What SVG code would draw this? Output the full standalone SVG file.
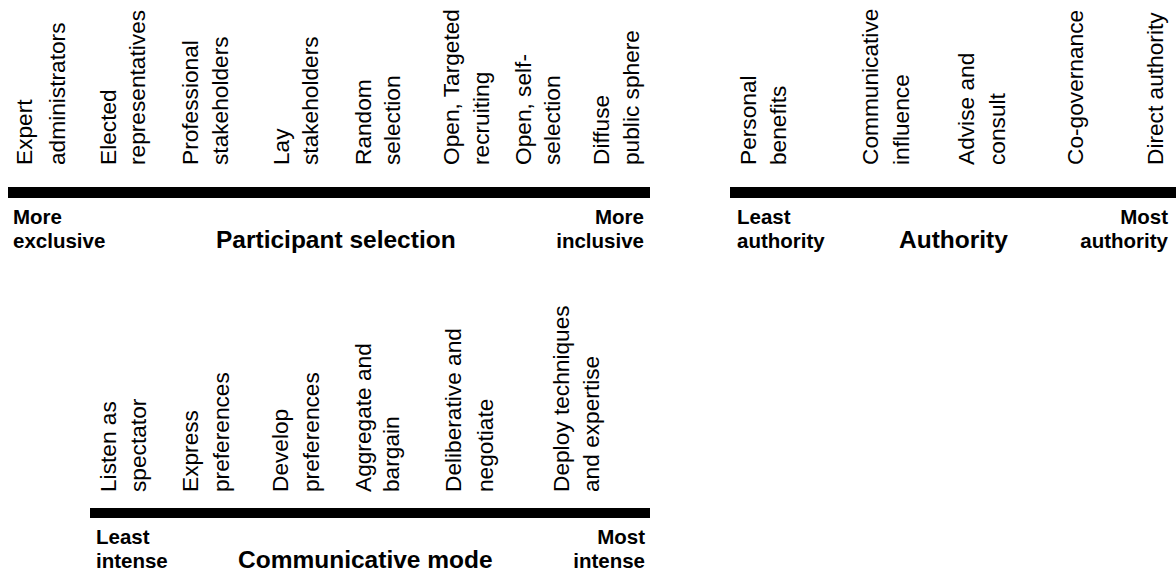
<svg xmlns="http://www.w3.org/2000/svg" width="1176" height="574" viewBox="0 0 1176 574">
<style>
.v{font-family:"Liberation Sans",Arial,sans-serif;font-size:22.7px;fill:#000}
.s{font-family:"Liberation Sans",Arial,sans-serif;font-size:20.5px;font-weight:bold;fill:#000}
.t{font-family:"Liberation Sans",Arial,sans-serif;font-size:24.5px;font-weight:bold;fill:#000}
.e{text-anchor:end}
.bar{fill:#000}
</style>
<rect width="1176" height="574" fill="#fff"/>
<g id="axes">
<rect class="bar" x="8" y="187" width="642" height="11"/>
<rect class="bar" x="730" y="187" width="446" height="11"/>
<rect class="bar" x="90" y="508" width="560" height="10"/>
</g>
<g id="participant-selection">
<text class="v" transform="translate(32,165) rotate(-90)">Expert</text>
<text class="v" transform="translate(65,165) rotate(-90)">administrators</text>
<text class="v" transform="translate(116,165) rotate(-90)">Elected</text>
<text class="v" transform="translate(145,165) rotate(-90)">representatives</text>
<text class="v" transform="translate(198,165) rotate(-90)">Professional</text>
<text class="v" transform="translate(228,165) rotate(-90)">stakeholders</text>
<text class="v" transform="translate(289,165) rotate(-90)">Lay</text>
<text class="v" transform="translate(318,165) rotate(-90)">stakeholders</text>
<text class="v" transform="translate(371,165) rotate(-90)">Random</text>
<text class="v" transform="translate(400,165) rotate(-90)">selection</text>
<text class="v" transform="translate(459,165) rotate(-90)">Open, Targeted</text>
<text class="v" transform="translate(489,165) rotate(-90)">recruiting</text>
<text class="v" transform="translate(531,165) rotate(-90)">Open, self-</text>
<text class="v" transform="translate(560,165) rotate(-90)">selection</text>
<text class="v" transform="translate(609,165) rotate(-90)">Diffuse</text>
<text class="v" transform="translate(639,165) rotate(-90)">public sphere</text>
<text class="s" x="13" y="224">More</text>
<text class="s" x="13" y="248">exclusive</text>
<text class="t" x="216" y="248">Participant selection</text>
<text class="s e" x="644" y="224">More</text>
<text class="s e" x="644" y="248">inclusive</text>
</g>
<g id="authority">
<text class="v" transform="translate(756,165) rotate(-90)">Personal</text>
<text class="v" transform="translate(786,165) rotate(-90)">benefits</text>
<text class="v" transform="translate(878,165) rotate(-90)">Communicative</text>
<text class="v" transform="translate(909,165) rotate(-90)">influence</text>
<text class="v" transform="translate(974,165) rotate(-90)">Advise and</text>
<text class="v" transform="translate(1005,165) rotate(-90)">consult</text>
<text class="v" transform="translate(1083,165) rotate(-90)">Co-governance</text>
<text class="v" transform="translate(1163,165) rotate(-90)">Direct authority</text>
<text class="s" x="737" y="224">Least</text>
<text class="s" x="737" y="248">authority</text>
<text class="t" x="899" y="248">Authority</text>
<text class="s e" x="1168" y="224">Most</text>
<text class="s e" x="1168" y="248">authority</text>
</g>
<g id="communicative-mode">
<text class="v" transform="translate(116,492) rotate(-90)">Listen as</text>
<text class="v" transform="translate(146,492) rotate(-90)">spectator</text>
<text class="v" transform="translate(198,492) rotate(-90)">Express</text>
<text class="v" transform="translate(229,492) rotate(-90)">preferences</text>
<text class="v" transform="translate(288,492) rotate(-90)">Develop</text>
<text class="v" transform="translate(319,492) rotate(-90)">preferences</text>
<text class="v" transform="translate(371,492) rotate(-90)">Aggregate and</text>
<text class="v" transform="translate(399,492) rotate(-90)">bargain</text>
<text class="v" transform="translate(461,492) rotate(-90)">Deliberative and</text>
<text class="v" transform="translate(493,492) rotate(-90)">negotiate</text>
<text class="v" transform="translate(569,492) rotate(-90)">Deploy techniques</text>
<text class="v" transform="translate(599,492) rotate(-90)">and expertise</text>
<text class="s" x="96" y="544">Least</text>
<text class="s" x="96" y="568">intense</text>
<text class="t" x="238" y="568">Communicative mode</text>
<text class="s e" x="645" y="544">Most</text>
<text class="s e" x="645" y="568">intense</text>
</g>
</svg>
